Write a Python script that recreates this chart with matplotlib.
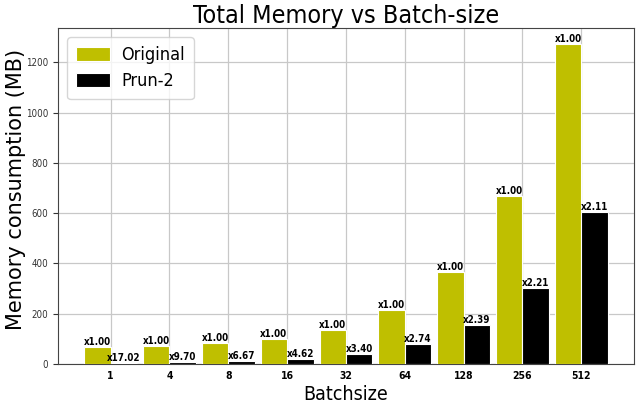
import matplotlib
matplotlib.use("Agg")
import matplotlib.pyplot as plt
import numpy as np

batch_sizes = ["1", "4", "8", "16", "32", "64", "128", "256", "512"]
original = [66, 72, 83, 98, 136, 213, 367, 668, 1272]
prun2 = [3.88, 7.42, 12.44, 21.2, 40.0, 77.7, 153.6, 302.3, 602.8]
original_labels = ["x1.00"] * 9
prun2_labels = ["x17.02", "x9.70", "x6.67", "x4.62", "x3.40", "x2.74", "x2.39", "x2.21", "x2.11"]

plt.rcParams["font.family"] = ["DejaVu Sans"]
plt.rcParams["font.stretch"] = "condensed"

fig = plt.figure(figsize=(6.4, 4.08), dpi=100)
ax = fig.add_axes([0.0906, 0.1078, 0.9, 0.823])

x = np.arange(len(batch_sizes))
w = 0.45
b1 = ax.bar(x - w / 2, original, w, color="y", edgecolor="white", linewidth=0.8, label="Original", zorder=3)
b2 = ax.bar(x + w / 2, prun2, w, color="k", edgecolor="white", linewidth=0.8, label="Prun-2", zorder=3)

for rect, lab in zip(b1, original_labels):
    ax.text(rect.get_x() + rect.get_width() / 2, rect.get_height(), lab,
            ha="center", va="bottom", fontsize=7, fontweight="bold", zorder=4)
for rect, lab in zip(b2, prun2_labels):
    ax.text(rect.get_x() + rect.get_width() / 2, rect.get_height(), lab,
            ha="center", va="bottom", fontsize=7, fontweight="bold", zorder=4)

ax.set_xticks(x)
ax.set_xticklabels(batch_sizes, fontsize=7.5, fontweight="bold")
ax.tick_params(axis="y", labelsize=7, colors="#333333")
ax.tick_params(axis="x", length=0, pad=5)
ax.grid(True, color="#c8c8c8", linewidth=0.9, zorder=0)
ax.set_axisbelow(True)
for s in ax.spines.values():
    s.set_color("#444444")

ax.set_title("Total Memory vs Batch-size", fontsize=18, pad=4)
ax.set_xlabel("Batchsize", fontsize=14, labelpad=3)
ax.set_ylabel("Memory consumption (MB)", fontsize=15, fontstretch="normal", va="center")
ax.yaxis.set_label_coords(-42 / 576, 0.52)
ax.legend(loc="upper left", fontsize=13, handlelength=1.9, handleheight=0.8,
          borderpad=0.5, labelspacing=0.45, handletextpad=0.6)

fig.savefig("out.png", dpi=100)
